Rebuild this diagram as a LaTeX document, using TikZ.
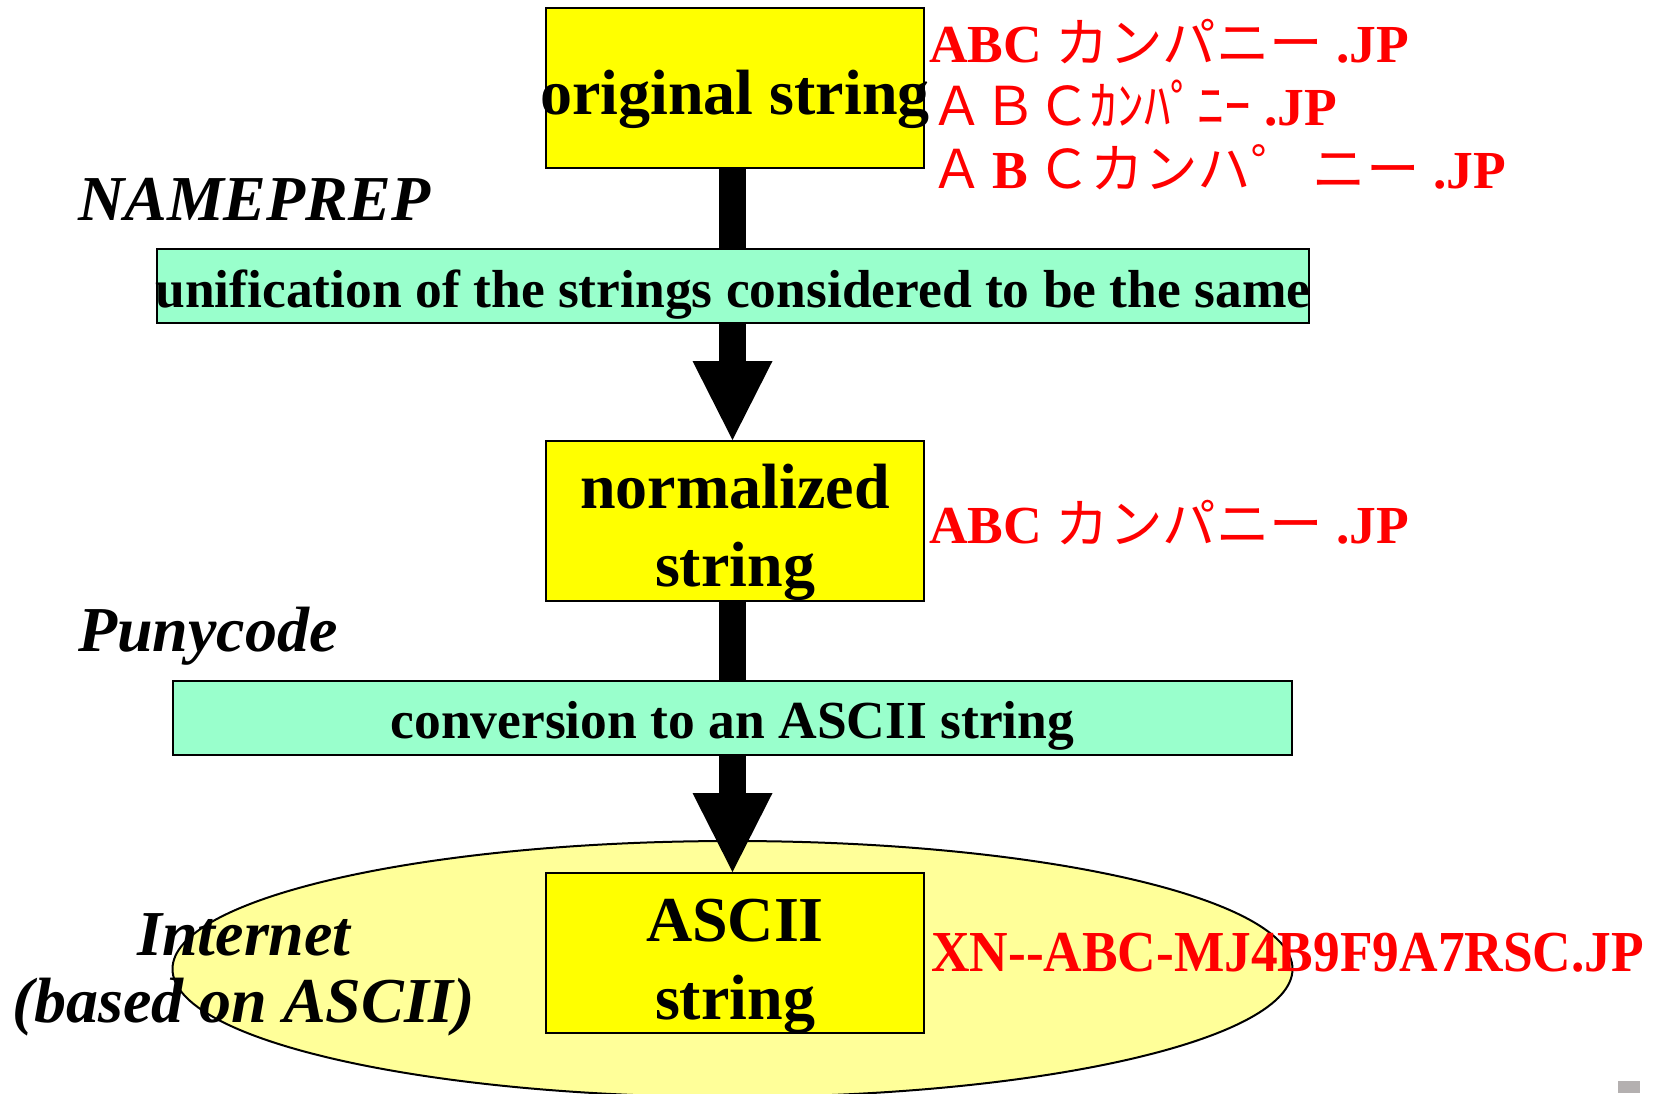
\documentclass[tikz,border=0pt]{standalone}
\usepackage{fontspec}
\usepackage{graphicx}
\setmainfont{Liberation Serif}
\newfontfamily\cjk{Noto Sans CJK JP}
\usetikzlibrary{arrows.meta,shapes.geometric}
\definecolor{boxyellow}{RGB}{255,255,0}
\definecolor{boxgreen}{RGB}{153,255,204}
\definecolor{netyellow}{RGB}{255,255,153}
\definecolor{labred}{RGB}{255,0,0}
\definecolor{cornergray}{RGB}{180,176,176}
\begin{document}
\begin{tikzpicture}[x=1pt,y=-1pt,
  ybox/.style={draw=black, line width=2pt, fill=boxyellow, minimum width=378pt, minimum height=160pt, inner sep=0pt},
  gbox/.style={draw=black, line width=2pt, fill=boxgreen, minimum height=74pt, inner sep=0pt},
  bigtxt/.style={font=\fontsize{64}{78}\selectfont\bfseries, anchor=base, inner sep=0pt},
  steptxt/.style={font=\fontsize{53.5}{60}\selectfont\bfseries, anchor=base, inner sep=0pt},
  sidetxt/.style={font=\fontsize{64}{78}\selectfont\bfseries\itshape, inner sep=0pt},
  redtxt/.style={font=\fontsize{53.5}{60}\selectfont\bfseries, text=labred, anchor=base west, inner sep=0pt},
  blockarrow/.style={line width=27pt, -{Triangle[length=79pt 0 0, width=80pt 0 0, line width=0pt]}},
]
\useasboundingbox (0,0) rectangle (1661,1093);

% Internet ellipse
\node[ellipse, draw=black, line width=2pt, fill=netyellow, minimum width=1120pt, minimum height=256pt, inner sep=0pt] (inet) at (732.5,969) {};
\fill[cornergray] (1618,1081) rectangle (1640,1093);

% yellow boxes
\node[ybox] (orig) at (735,88) {};
\node[ybox] (norm) at (735,521) {};
\node[ybox] (ascii) at (735,953) {};

% block arrows
\draw[blockarrow] ([xshift=-2.5pt]orig.south) -- ([xshift=-2.5pt]norm.north);
\draw[blockarrow] ([xshift=-2.5pt]norm.south) -- ([xshift=-2.5pt]ascii.north);

% green step boxes
\node[gbox, minimum width=1152pt] (nameprep) at (733,286) {};
\node[gbox, minimum width=1119pt] (puny) at (732.5,718) {};

% box texts
\node[bigtxt] (origtxt) at (735,114) {original string};
\node[bigtxt] (normtxta) at (735,508) {normalized};
\node[bigtxt] (normtxtb) at (735,586) {string};
\node[bigtxt] (asciitxta) at (735,941) {ASCII};
\node[bigtxt] (asciitxtb) at (735,1019) {string};
\node[steptxt] (nptxt) at (733,307) {unification of the strings considered to be the same};
\node[steptxt] (pctxt) at (732.5,738) {conversion to an ASCII string};

% side labels
\node[sidetxt, anchor=base west] (nplab) at (78,220) {NAMEPREP};
\node[sidetxt, anchor=base west] (pclab) at (78,651) {Punycode};
\node[sidetxt, anchor=base] (netlaba) at (244,955) {Internet};
\node[sidetxt, anchor=base] (netlabb) at (244,1022) {(based on ASCII)};

% red examples
\node[redtxt] (reda) at (929,62) {ABC {\cjk\mdseries カンパニー} .JP};
\node[redtxt] (redb) at (930,125) {{\cjk\mdseries ＡＢＣｶﾝﾊﾟﾆｰ} .JP};
\node[redtxt] (redc) at (930,188) {{\cjk\mdseries Ａ}\makebox[53.5pt]{B}{\cjk\mdseries Ｃカンハ゜}\hspace{8pt}{\cjk\mdseries ニー} .JP};
\node[redtxt] (redd) at (929,543) {ABC {\cjk\mdseries カンパニー} .JP};
\node[redtxt, font=\fontsize{58}{60}\selectfont\bfseries] (rede) at (931,971) {\scalebox{0.92}[1]{XN-{}-ABC-MJ4B9F9A7RSC.JP}};
\end{tikzpicture}
\end{document}
